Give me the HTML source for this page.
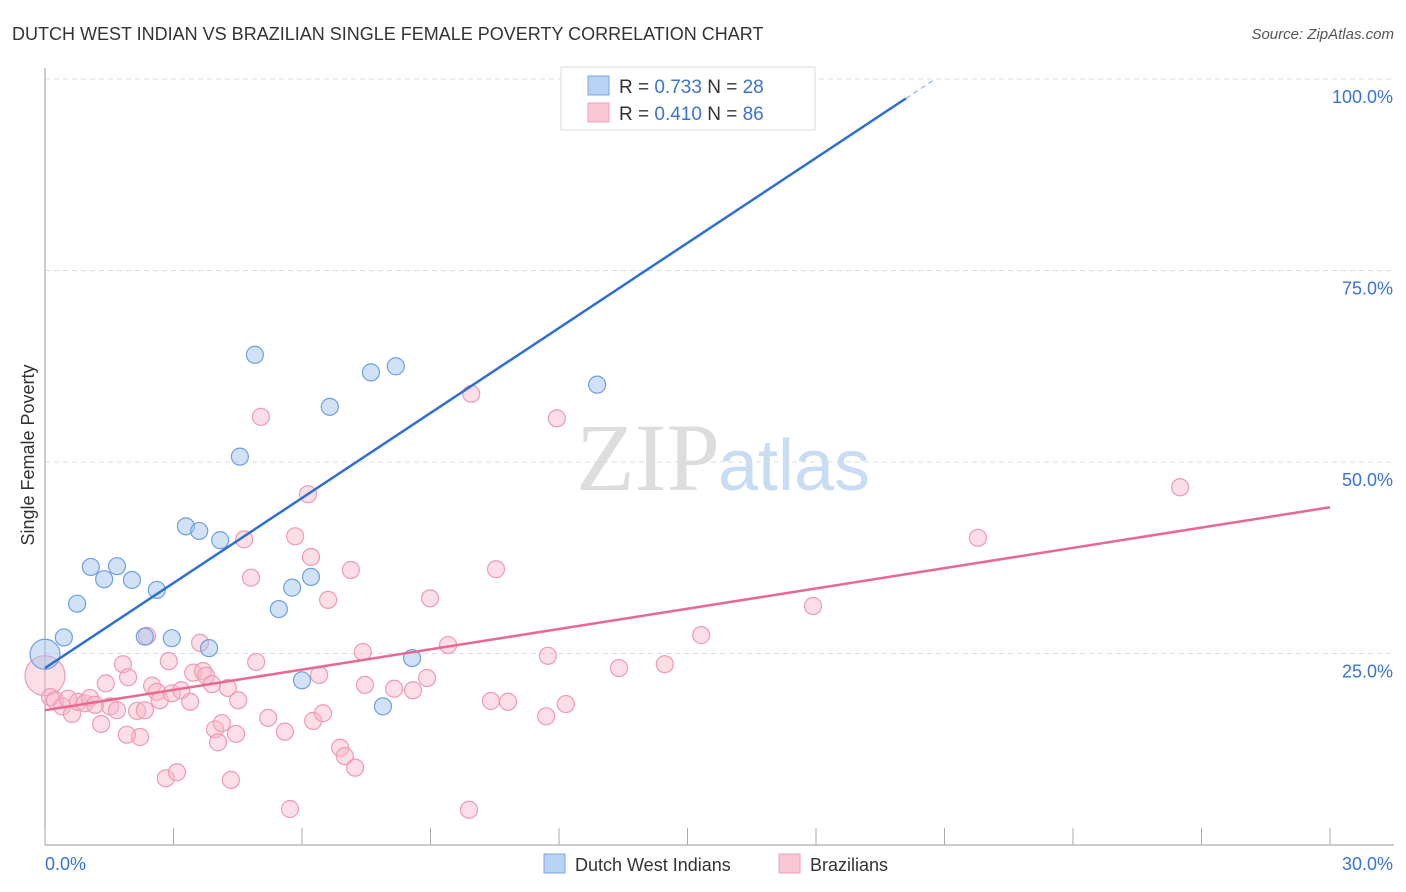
<!DOCTYPE html>
<html><head><meta charset="utf-8"><style>
body{margin:0;background:#fff;font-family:"Liberation Sans",sans-serif}
#wrap{position:relative;width:1406px;height:892px;overflow:hidden}
</style></head><body>
<div id="wrap">
<svg id="svg" width="1406" height="892" xmlns="http://www.w3.org/2000/svg" font-family="Liberation Sans, sans-serif">
<text x="12" y="40" font-size="18" fill="#333">DUTCH WEST INDIAN VS BRAZILIAN SINGLE FEMALE POVERTY CORRELATION CHART</text>
<text x="1394" y="39" font-size="15" fill="#555" font-style="italic" text-anchor="end">Source: ZipAtlas.com</text>
<text x="720" y="490" font-size="96" fill="#ddd" text-anchor="end" font-family="Liberation Serif, serif">ZIP</text>
<text x="718" y="490" font-size="72" fill="#c8dcf4">atlas</text>
<text transform="translate(34,455) rotate(-90)" font-size="18" fill="#333" text-anchor="middle">Single Female Poverty</text>
<g id="grid"></g><g id="axes"></g><g id="marks"></g><g id="lines"></g>
<g>
<rect x="561" y="67" width="254" height="63" fill="#fff" stroke="#ddd"/>
<rect x="588" y="76" width="21" height="19" fill="#b8d2f4" stroke="#7aa6e0"/>
<rect x="588" y="103" width="21" height="19" fill="#f9c7d6" stroke="#ef9fb8"/>
<text x="619" y="93" font-size="19" fill="#333">R = <tspan fill="#3a74d0">0.733</tspan>   N = <tspan fill="#3a74d0">28</tspan></text>
<text x="619" y="120" font-size="19" fill="#333">R = <tspan fill="#3a74d0">0.410</tspan>   N = <tspan fill="#3a74d0">86</tspan></text>
</g>
<g>
<rect x="544" y="854" width="21" height="19" fill="#b8d2f4" stroke="#7aa6e0"/>
<text x="575" y="871" font-size="18" fill="#333">Dutch West Indians</text>
<rect x="779" y="854" width="21" height="19" fill="#f9c7d6" stroke="#ef9fb8"/>
<text x="810" y="871" font-size="18" fill="#333">Brazilians</text>
</g>
</svg>
</div>
<script>
const xTicks=[0,3,6,9,12,15,18,21,24,27,30];
const yTicks=[25,50,75,100];
const yTickLabels=["25.0%","50.0%","75.0%","100.0%"];
const xEndLabels=["0.0%","30.0%"];
const dutchX=[0,0.44,0.75,1.07,1.38,1.68,2.03,2.61,2.33,2.96,3.29,3.60,3.83,4.09,4.55,4.90,5.46,5.77,6.00,6.21,6.65,7.61,8.19,7.89,8.57,12.89,14.24,17.02];
const dutchY=[24.9,27.1,31.5,36.3,34.7,36.4,34.6,33.3,27.2,27.0,41.6,41.0,25.7,39.8,50.7,64.0,30.8,33.6,21.5,35.0,57.2,61.7,62.5,18.1,24.4,60.1,100,100];
const brazX=[0,0.12,0.23,0.40,0.54,0.63,0.77,0.93,1.05,1.17,1.31,1.42,1.52,1.68,1.82,1.94,2.15,2.22,1.91,2.33,2.38,2.50,2.61,2.68,2.82,2.89,2.96,3.08,3.18,3.39,3.46,3.62,3.69,3.76,3.90,3.97,4.04,4.13,4.27,4.34,4.46,4.51,4.65,4.81,4.93,5.04,5.21,5.60,5.72,5.84,6.14,6.21,6.26,6.40,6.49,6.61,6.89,7.00,7.14,7.24,7.42,7.47,8.15,8.59,8.92,8.99,9.41,9.90,9.95,10.41,10.53,10.81,11.70,11.74,11.95,12.16,13.40,14.47,15.32,17.93,21.78,26.50];
const brazY=[22.1,19.3,18.9,18.1,19.1,17.1,18.7,18.5,19.2,18.3,15.8,21.1,18.1,17.6,23.6,21.9,17.5,14.1,14.4,17.6,27.3,20.8,20.0,18.9,8.7,24.0,19.8,9.5,20.2,18.7,22.5,26.4,22.7,22.1,21.0,15.1,13.4,15.9,20.5,8.5,14.5,18.9,39.9,34.9,23.9,55.9,16.6,14.8,4.7,40.3,45.8,37.6,16.2,22.2,17.2,32.0,12.7,11.6,35.9,10.1,25.2,20.9,20.4,20.2,21.8,32.2,26.1,4.6,58.9,18.8,36.0,18.7,16.8,24.7,55.7,18.4,23.1,23.6,27.4,31.2,40.1,46.7];
const dutchFit=[23.1,3.70];
const brazFit=[17.6,0.883];
const NS='http://www.w3.org/2000/svg';
const X=v=>45+v*(1285/30);
const Y=v=>845-v*7.66;
function mk(tag,attrs,parent){const e=document.createElementNS(NS,tag);for(const k in attrs)e.setAttribute(k,attrs[k]);parent.appendChild(e);return e;}
const grid=document.getElementById('grid'),axes=document.getElementById('axes'),marks=document.getElementById('marks'),lines=document.getElementById('lines');
yTicks.forEach((t,i)=>{
 const l=mk('line',{x1:45,x2:1394,y1:Y(t),y2:Y(t),stroke:'#ddd','stroke-dasharray':'5,4'},grid);
 
 
 const tx=mk('text',{x:1393,y:Y(t)+24,'font-size':18,fill:'#3a74d0','text-anchor':'end'},axes);
 tx.textContent=yTickLabels[i];
 
 
});
const ya=mk('line',{x1:45,x2:45,y1:68,y2:845,stroke:'#999'},axes);


const xa=mk('line',{x1:45,x2:1394,y1:845,y2:845,stroke:'#999'},axes);


xTicks.forEach(t=>{
 const l=mk('line',{x1:X(t),x2:X(t),y1:828,y2:845,stroke:'#aaa'},axes);
 
 
});
const xl0=mk('text',{x:45,y:870,'font-size':18,fill:'#3a74d0'},axes);
xl0.textContent=xEndLabels[0];


const xl1=mk('text',{x:1393,y:870,'font-size':18,fill:'#3a74d0','text-anchor':'end'},axes);
xl1.textContent=xEndLabels[1];


brazX.forEach((x,i)=>{
 const c=mk('circle',{cx:X(x),cy:Y(brazY[i]),r:i===0?20:8.5,fill:'rgba(248,182,202,0.45)',stroke:'#ee9ab3','stroke-width':1.2},marks);
 
 
});
dutchX.forEach((x,i)=>{
 const c=mk('circle',{cx:X(x),cy:Y(dutchY[i]),r:i===0?15:8.5,fill:'rgba(164,198,240,0.5)',stroke:'#6f9fe0','stroke-width':1.2},marks);
 
 
});
const bEnd=20.1, bMax=(100-dutchFit[0])/dutchFit[1];
const bl=mk('line',{x1:X(0),y1:Y(dutchFit[0]),x2:X(bEnd),y2:Y(dutchFit[0]+dutchFit[1]*bEnd),stroke:'#2f6fd4','stroke-width':2.5},lines);


const bd=mk('line',{x1:X(bEnd),y1:Y(dutchFit[0]+dutchFit[1]*bEnd),x2:X(bMax),y2:Y(100),stroke:'#8fb3ea','stroke-width':1.2,'stroke-dasharray':'5,4'},lines);


const pl=mk('line',{x1:X(0),y1:Y(brazFit[0]),x2:X(30),y2:Y(brazFit[0]+brazFit[1]*30),stroke:'#e8698f','stroke-width':2.5},lines);


</script>
</body></html>
